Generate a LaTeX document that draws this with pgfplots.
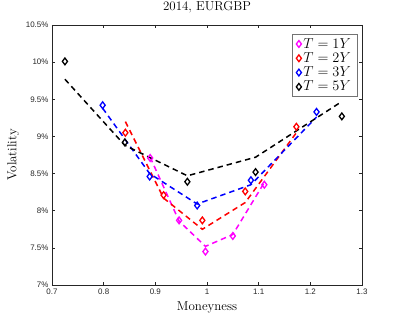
\documentclass[border=0pt]{standalone}
\usepackage{pgfplots}
\pgfplotsset{compat=1.18}
\usepackage{fontspec}
\newfontfamily\ticksf{Liberation Sans}
\definecolor{axgray}{gray}{0.15}
\definecolor{mag}{rgb}{1,0,1}
\begin{document}
\begin{tikzpicture}
\path[use as bounding box] (-52bp,-34bp) rectangle (347bp,285bp);
\begin{axis}[
  at={(0,0)}, anchor=south west,
  scale only axis, width=310bp, height=260bp,
  xmin=0.7, xmax=1.3, ymin=7, ymax=10.5,
  xtick={0.7,0.8,0.9,1,1.1,1.2,1.3},
  xticklabels={0.7,0.8,0.9,1,1.1,1.2,1.3},
  ytick={7,7.5,8,8.5,9,9.5,10,10.5},
  yticklabels={7\%,7.5\%,8\%,8.5\%,9\%,9.5\%,10\%,10.5\%},
  tick align=inside, tick pos=both,
  major tick length=3bp,
  axis line style={axgray, line width=0.5pt},
  every tick/.style={axgray, line width=0.5pt},
  tick label style={font=\ticksf\fontsize{8}{9}\selectfont, text=axgray},
  xlabel={Moneyness}, ylabel={Volatility},
  xlabel style={at={(axis description cs:0.5,-0.085)}, anchor=center, font=\fontsize{13}{14}\selectfont},
  ylabel style={at={(axis description cs:-0.125,0.5)}, anchor=center, rotate=0, font=\fontsize{13}{14}\selectfont},
  title={2014, EURGBP},
  title style={at={(axis description cs:0.5,1.046)}, anchor=center, font=\fontsize{13}{14}\selectfont},
  legend style={at={(axis description cs:0.984,0.965)}, anchor=north east, draw=black!55, line width=0.5pt,
    font=\fontsize{13.5}{15}\selectfont, row sep=-1pt, inner xsep=4pt, inner ysep=2pt},
  legend cell align=left,
  clip=false,
]
\pgfplotsset{mk/.style={only marks, mark=diamond, mark size=3.4bp, line width=1.3pt, #1}}
\addplot[mk={mag}] coordinates {(0.890,8.71)(0.946,7.87)(0.997,7.45)(1.050,7.66)(1.111,8.35)};
\addlegendentry{$T=1Y$}
\addplot[mk={red}] coordinates {(0.842,9.05)(0.916,8.21)(0.991,7.87)(1.074,8.26)(1.173,9.13)};
\addlegendentry{$T=2Y$}
\addplot[mk={blue}] coordinates {(0.798,9.42)(0.889,8.46)(0.981,8.07)(1.085,8.41)(1.212,9.33)};
\addlegendentry{$T=3Y$}
\addplot[mk={black}] coordinates {(0.725,10.01)(0.841,8.92)(0.962,8.39)(1.094,8.52)(1.261,9.27)};
\addlegendentry{$T=5Y$}
\pgfplotsset{dl/.style={no marks, line width=1.5bp, dash pattern=on 5.5bp off 4bp, #1}}
\addplot[dl={mag}, forget plot] coordinates {(0.890,8.72)(0.946,7.86)(0.997,7.52)(1.050,7.68)(1.111,8.38)};
\addplot[dl={red}, forget plot] coordinates {(0.842,9.20)(0.916,8.17)(0.991,7.75)(1.074,8.11)(1.173,9.05)};
\addplot[dl={blue}, forget plot] coordinates {(0.798,9.38)(0.889,8.50)(0.981,8.09)(1.085,8.35)(1.212,9.26)};
\addplot[dl={black}, forget plot] coordinates {(0.725,9.77)(0.841,8.88)(0.962,8.47)(1.094,8.72)(1.261,9.47)};
\end{axis}
\end{tikzpicture}
\end{document}
